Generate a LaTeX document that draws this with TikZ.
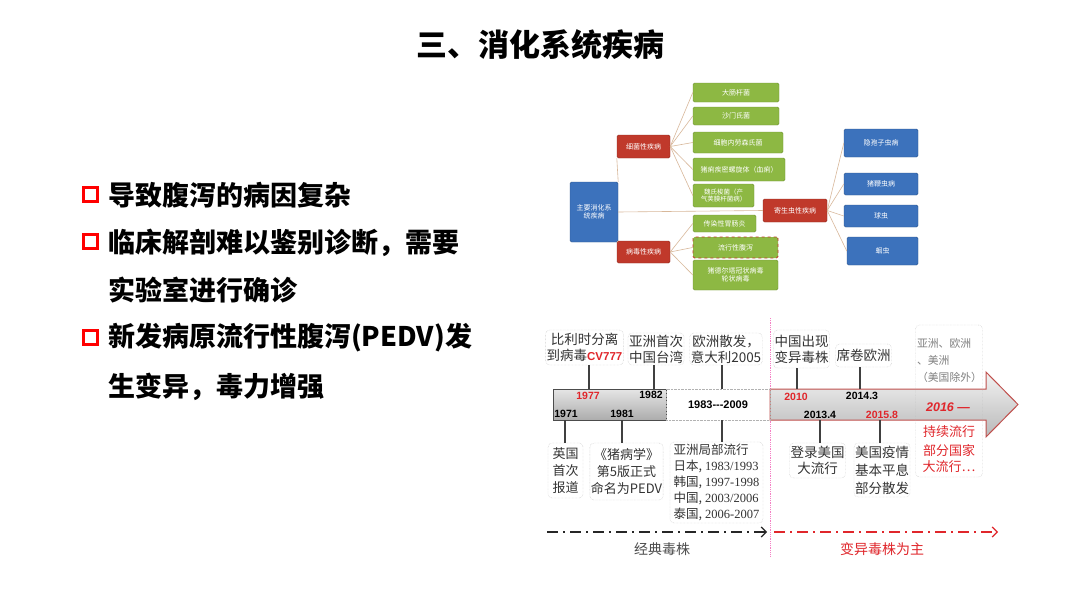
\documentclass[tikz,border=0pt]{standalone}
\usepackage{fontspec}
\setmainfont{Noto Sans CJK SC}
\newfontfamily\numfont{Liberation Sans}
\newfontfamily\serfont{Liberation Serif}
\usetikzlibrary{positioning,arrows.meta}
\definecolor{redbox}{HTML}{C0392B}
\definecolor{greenbox}{HTML}{8DB843}
\definecolor{bluebox}{HTML}{3C72BC}
\definecolor{linktan}{HTML}{D8B89A}
\definecolor{arrowred}{HTML}{C0504D}
\definecolor{txtred}{HTML}{E0262B}
\begin{document}
\begin{tikzpicture}[x=1pt, y=-1pt,
  mapbox/.style={text=white, rounded corners=1.5pt, inner sep=1pt, align=center, font=\fontsize{7}{8.5}\selectfont},
  mapred/.style={mapbox, fill=redbox, draw=redbox!75!black},
  mapgreen/.style={mapbox, fill=greenbox, draw=greenbox!80!black},
  mapblue/.style={mapbox, fill=bluebox, draw=bluebox!75!black},
  maplink/.style={draw=linktan, line width=0.6pt},
  bullet/.style={draw=red, line width=3pt, minimum size=14pt, inner sep=0pt},
  item/.style={anchor=west, inner sep=0pt, font=\bfseries\fontsize{27}{30}\selectfont},
  tbox/.style={draw=gray!55, densely dotted, rounded corners=4pt, align=center, inner sep=1pt, text=black!80, font=\fontsize{13.5}{16}\selectfont},
  year/.style={inner sep=0pt, font=\numfont\bfseries\fontsize{10.5}{12}\selectfont},
  tick/.style={draw=black!75, line width=1.1pt},
  era/.style={dash pattern=on 11pt off 5pt on 2pt off 5pt, line width=1.2pt, -{Straight Barb[length=5pt]}},
]
\useasboundingbox[fill=white] (0,0) rectangle (1080,608);

% Titel
\node[font=\bfseries\fontsize{31}{34}\selectfont] (title) at (540,45) {三、消化系统疾病};

% Aufzaehlung links
\node[bullet] (b1) at (90,194) {};
\node[bullet] (b2) at (90,241) {};
\node[bullet] (b3) at (90,337) {};
\node[item] (l1) at (108,195) {导致腹泻的病因复杂};
\node[item] (l2) at (108,243) {临床解剖难以鉴别诊断，需要};
\node[item] (l3) at (108,290) {实验室进行确诊};
\node[item] (l4) at (108,338) {新发病原流行性腹泻(PEDV)发};
\node[item] (l5) at (108,387) {生变异，毒力增强};

% Mindmap der Verdauungskrankheiten
\node[mapblue, minimum width=48, minimum height=60] (root) at (594,212) {主要消化系\\统疾病};
\node[mapred, minimum width=53, minimum height=23] (bac) at (643.5,146.5) {细菌性疾病};
\node[mapred, minimum width=53, minimum height=22] (vir) at (643.5,252) {病毒性疾病};
\node[mapred, minimum width=64, minimum height=23] (par) at (795,210.5) {寄生虫性疾病};

\node[mapgreen, minimum width=86, minimum height=19] (ecoli) at (736,92.5) {大肠杆菌};
\node[mapgreen, minimum width=86, minimum height=18] (salm) at (736,116) {沙门氏菌};
\node[mapgreen, minimum width=90, minimum height=21] (laws) at (738,142.5) {细胞内劳森氏菌};
\node[mapgreen, minimum width=92, minimum height=23] (dys) at (739,169.5) {猪痢疾密螺旋体（血痢）};
\node[mapgreen, minimum width=61, minimum height=23, font=\fontsize{6.5}{7.5}\selectfont] (clos) at (723.5,195.5) {魏氏梭菌（产\\气荚膜杆菌病）};
\node[mapgreen, minimum width=63, minimum height=17] (tge) at (724.5,223.5) {传染性胃肠炎};
\node[mapgreen, minimum width=85, minimum height=21, draw=redbox, dashed, line width=0.9pt] (ped) at (735.5,247.5) {流行性腹泻};
\node[mapgreen, minimum width=85, minimum height=30] (rota) at (735.5,275) {猪德尔塔冠状病毒\\轮状病毒};

\node[mapblue, minimum width=74, minimum height=28] (crypt) at (881,143) {隐孢子虫病};
\node[mapblue, minimum width=74, minimum height=22] (trich) at (881,184) {猪鞭虫病};
\node[mapblue, minimum width=74, minimum height=22] (cocc) at (881,216) {球虫};
\node[mapblue, minimum width=71, minimum height=28] (asc) at (882.5,251) {蛔虫};

\draw[maplink] (root.north east) -- (bac.south west);
\draw[maplink] (root.south east) -- (vir.north west);
\draw[maplink] (root.east) -- (par.west);
\foreach \n in {ecoli,salm,laws,dys,clos}
  \draw[maplink] (bac.east) -- (\n.west);
\foreach \n in {tge,ped,rota}
  \draw[maplink] (vir.east) -- (\n.west);
\foreach \n in {crypt,trich,cocc,asc}
  \draw[maplink] (par.east) -- (\n.west);

% Zeitleiste: Balken und Pfeil
\draw[magenta!50, densely dotted, line width=0.8pt] (770,318) -- (770,556);
\shade[top color=gray!10, bottom color=gray!55, draw=arrowred, line width=1pt]
  (770,389) -- (986,389) -- (986,372) -- (1018,404.5) -- (986,437) -- (986,420) -- (770,420) -- cycle;
\node[minimum width=113, minimum height=31, inner sep=0pt, top color=gray!20, bottom color=gray!65,
  draw=black!70, line width=1pt] (oldera) at (609.5,404.5) {};
\node[minimum width=104, minimum height=31, inner sep=0pt, draw=gray!60, densely dotted,
  font=\numfont\bfseries\fontsize{11}{12}\selectfont] (midspan) at (718,404.5) {1983---2009};

% Jahreszahlen
\node[year, text=txtred] (y1977) at (588,396) {1977};
\node[year] (y1982) at (651,395) {1982};
\node[year] (y1971) at (566,414) {1971};
\node[year] (y1981) at (622,414) {1981};
\node[year, text=txtred] (y2010) at (796,397) {2010};
\node[year] (y2014) at (862,396) {2014.3};
\node[year] (y2013) at (820,415) {2013.4};
\node[year, text=txtred] (y2015) at (882,415) {2015.8};

% Ereignisse oben
\node[tbox, minimum width=75, minimum height=35] (cv) at (584.5,347.5) {比利时分离\\到病毒{\numfont\bfseries\fontsize{11.5}{12}\selectfont\color{txtred}CV777}};
\node[tbox, minimum width=56, minimum height=32] (taiwan) at (656,349) {亚洲首次\\中国台湾};
\node[tbox, minimum width=68, minimum height=32] (italy) at (726,349) {欧洲散发，\\意大利2005};
\node[tbox, minimum width=53, minimum height=38] (variant) at (801.5,349) {中国出现\\变异毒株};
\node[tbox, minimum width=53, minimum height=23] (europe) at (863.5,355.5) {席卷欧洲};

% Ereignisse unten
\node[tbox, minimum width=35, minimum height=55, font=\fontsize{13}{17}\selectfont] (uk) at (565.5,470.5) {英国\\首次\\报道};
\node[tbox, minimum width=73, minimum height=57, font=\fontsize{13}{17}\selectfont] (book) at (626.5,471.5) {《猪病学》\\第5版正式\\命名为PEDV};
\node[tbox, minimum width=93, minimum height=81, align=left, font=\fontsize{12.5}{16}\selectfont] (asia) at (716.5,482.5)
  {亚洲局部流行\\日本,{\serfont\ 1983/1993}\\韩国,{\serfont\ 1997-1998}\\中国,{\serfont\ 2003/2006}\\泰国,{\serfont\ 2006-2007}};
\node[tbox, minimum width=51, minimum height=35] (usa) at (817.5,460.5) {登录美国\\大流行};
\node[tbox, minimum width=50, minimum height=54, font=\fontsize{13.5}{18}\selectfont] (calm) at (882,470) {美国疫情\\基本平息\\部分散发};

% Kasten 2016
\node[tbox, minimum width=67, minimum height=152] (box16) at (949,401) {};
\node[text=gray, align=left, inner sep=0pt, font=\fontsize{10.8}{17}\selectfont] (spread) at (949.5,360) {亚洲、欧洲\\、美洲\\（美国除外）};
\node[text=txtred, inner sep=0pt, font=\numfont\bfseries\itshape\fontsize{12.5}{14}\selectfont] (y2016) at (948,407) {2016 —};
\node[text=txtred, align=center, inner sep=0pt, font=\fontsize{13}{15.5}\selectfont] (still) at (949,449) {持续流行\\[4pt]部分国家\\大流行…};

% Verbindungsstriche
\coordinate (t1977) at (589,389);
\coordinate (t1982) at (654,389);
\coordinate (t2005) at (722,389);
\coordinate (t2010) at (797,389);
\coordinate (t2014) at (860,389);
\coordinate (t1971) at (565,420);
\coordinate (t1981) at (622,420);
\coordinate (t1983) at (722,420);
\coordinate (t2013) at (820,420);
\coordinate (t2015) at (880,420);
\draw[tick] (t1977) -- (t1977 |- cv.south);
\draw[tick] (t1982) -- (t1982 |- taiwan.south);
\draw[tick] (t2005) -- (t2005 |- italy.south);
\draw[tick] (t2010) -- (t2010 |- variant.south);
\draw[tick] (t2014) -- (t2014 |- europe.south);
\draw[tick] (t1971) -- (t1971 |- uk.north);
\draw[tick] (t1981) -- (t1981 |- book.north);
\draw[tick] (t1983) -- (t1983 |- asia.north);
\draw[tick] (t2013) -- (t2013 |- usa.north);
\draw[tick] (t2015) -- (t2015 |- calm.north);

% Epochen
\coordinate (e1) at (547,532);
\coordinate (e2) at (767,532);
\coordinate (e3) at (774,532);
\coordinate (e4) at (998,532);
\draw[era, black!85] (e1) -- (e2);
\draw[era, txtred] (e3) -- (e4);
\node[text=black!70, font=\fontsize{14}{16}\selectfont] (classic) at (662,549) {经典毒株};
\node[text=txtred, font=\fontsize{14}{16}\selectfont] (mutant) at (882,549) {变异毒株为主};
\end{tikzpicture}
\end{document}
